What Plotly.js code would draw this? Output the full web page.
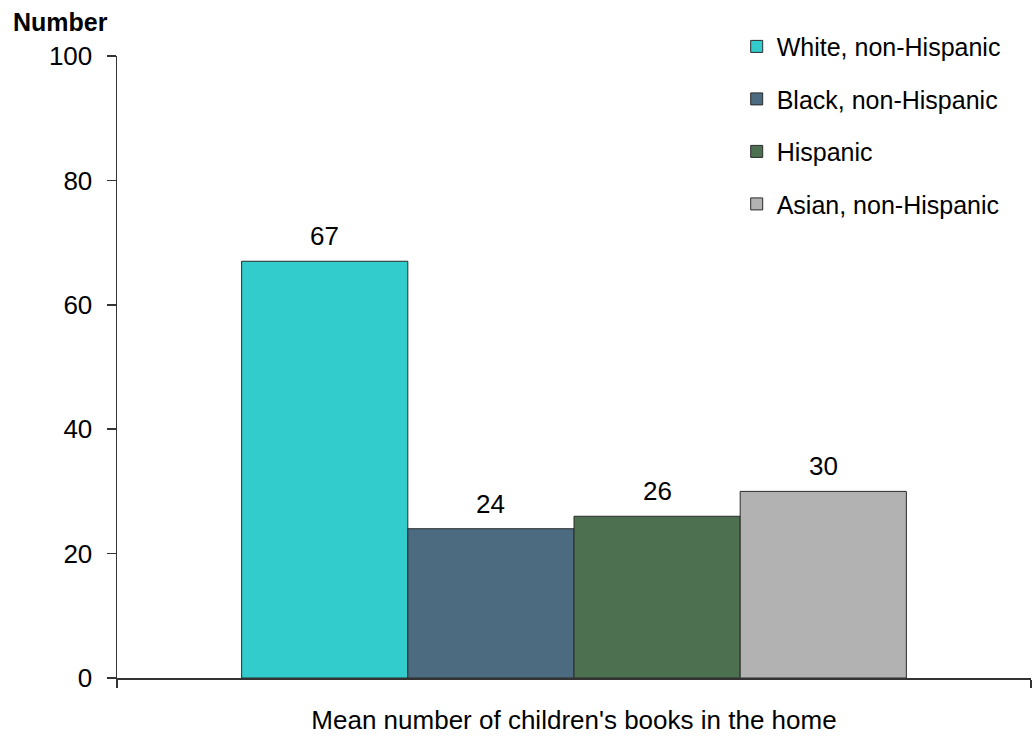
<!DOCTYPE html>
<html>
<head>
<meta charset="utf-8">
<script src="https://cdn.plot.ly/plotly-3.0.1.min.js"></script>
<style>html,body{margin:0;padding:0;background:#fff;}#chart{width:1036px;height:738px;}</style>
</head>
<body>
<div id="chart"></div>
<script>
const groups = ["White, non-Hispanic", "Black, non-Hispanic", "Hispanic", "Asian, non-Hispanic"];
const values = [67, 24, 26, 30];
const colors = ["#33CCCC", "#4C6B80", "#4C7050", "#B2B2B2"];
const categoryTitle = "Mean number of children's books in the home";
const yTitle = "Number";
const yTicks = [0, 20, 40, 60, 80, 100];

const FONT = "Liberation Sans, Arial, sans-serif";

const traces = groups.map((g, i) => ({
  type: "bar",
  name: g,
  x: [i],
  y: [values[i]],
  width: [1],
  legendgroup: "g" + i,
  marker: {color: colors[i], line: {color: "#2a2a2a", width: 1}},
  hoverinfo: "name+y"
}));

const annotations = groups.map((g, i) => ({
  x: i, y: values[i], xref: "x", yref: "y",
  text: String(values[i]), showarrow: false,
  yanchor: "middle", yshift: 25,
  font: {family: FONT, size: 26, color: "#000"}
}));
annotations.push({
  xref: "paper", yref: "paper", x: -0.116, y: 1.055,
  xanchor: "left", yanchor: "middle",
  text: "<b>" + yTitle + "</b>", showarrow: false,
  font: {family: FONT, size: 25, color: "#000"}
});

const layout = {
  width: 1036, height: 738,
  margin: {l: 117, r: 5, t: 56, b: 60},
  paper_bgcolor: "#fff", plot_bgcolor: "#fff",
  showlegend: true,
  barmode: "group",
  legend: {
    x: 0.678, y: 1.052, xanchor: "left", yanchor: "top",
    font: {family: FONT, size: 25, color: "#000"},
    tracegroupgap: 17,
    bgcolor: "rgba(0,0,0,0)"
  },
  xaxis: {
    range: [-1.25, 4.25],
    tickvals: [-1.25, 4.25],
    ticks: "outside", ticklen: 8, tickcolor: "#333", tickwidth: 1.5,
    showticklabels: false,
    showline: true, linecolor: "#333", linewidth: 1.5,
    showgrid: false, zeroline: false,
    title: {text: categoryTitle, font: {family: FONT, size: 26, color: "#000"}, standoff: 24}
  },
  yaxis: {
    range: [0, 100],
    tickvals: yTicks,
    ticks: "outside", ticklen: 9, tickcolor: "#333", tickwidth: 1.5,
    ticklabelstandoff: 9,
    showline: true, linecolor: "#333", linewidth: 1.5,
    showgrid: false, zeroline: false,
    tickfont: {family: FONT, size: 26, color: "#000"}
  },
  annotations: annotations
};

Plotly.newPlot("chart", traces, layout, {displayModeBar: false, staticPlot: true});
</script>
</body>
</html>
